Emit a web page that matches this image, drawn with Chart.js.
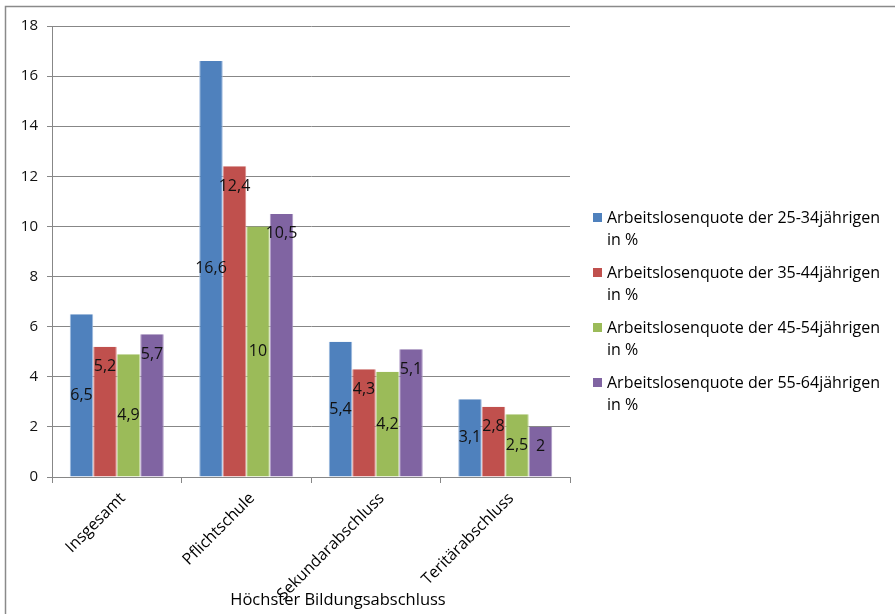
<!DOCTYPE html>
<html lang="de">
<head>
<meta charset="utf-8">
<title>Arbeitslosenquote nach Bildungsabschluss</title>
<script src="https://cdn.jsdelivr.net/npm/chart.js@4/dist/chart.umd.min.js"></script>
<style>
  html, body { margin: 0; padding: 0; background: #fff; }
  #wrap { width: 895px; height: 614px; position: relative; }
</style>
</head>
<body>
<div id="wrap"><canvas id="chart" width="895" height="614"></canvas></div>
<script>
// Kategorien (höchster Bildungsabschluss)
const categories = ['Insgesamt', 'Pflichtschule', 'Sekundarabschluss', 'Teritärabschluss'];

// Arbeitslosenquoten in % je Altersgruppe
const quote25bis34 = [6.5, 16.6, 5.4, 3.1];
const quote35bis44 = [5.2, 12.4, 4.3, 2.8];
const quote45bis54 = [4.9, 10, 4.2, 2.5];
const quote55bis64 = [5.7, 10.5, 5.1, 2];

const seriesNames = [
  'Arbeitslosenquote der 25-34jährigen in %',
  'Arbeitslosenquote der 35-44jährigen in %',
  'Arbeitslosenquote der 45-54jährigen in %',
  'Arbeitslosenquote der 55-64jährigen in %'
];

// y-Achse
const yMin = 0;
const yMax = 18;
const yStep = 2;

const axisTitle = 'Höchster Bildungsabschluss';

const FONT = '"Open Sans", Lato, sans-serif';
const AXIS_GREY = '#878787';

const seriesValues = [quote25bis34, quote35bis44, quote45bis54, quote55bis64];
const fills = ['#4F81BD', '#C0504D', '#9BBB59', '#8064A2'];
const edges = ['#9DB9DE', '#D98A88', '#C3D99A', '#AC97C6'];
// Wertbeschriftung: Mitte des Balkens oder innen am Ende
const labelAnchors = ['center', 'end', 'center', 'end'];

const fmt = v => String(v).replace('.', ',');

// Rahmen des Diagrammbereichs
const frame = {
  id: 'frame',
  beforeDraw(chart) {
    const ctx = chart.ctx;
    ctx.save();
    ctx.strokeStyle = '#8a8a8a';
    ctx.lineWidth = 1.5;
    ctx.beginPath();
    ctx.moveTo(5.5, chart.height + 5);
    ctx.lineTo(5.5, 6.5);
    ctx.lineTo(chart.width + 5, 6.5);
    ctx.stroke();
    ctx.restore();
  }
};

// Wertbeschriftungen auf den Balken
const valueLabels = {
  id: 'valueLabels',
  afterDatasetsDraw(chart) {
    const ctx = chart.ctx;
    ctx.save();
    ctx.font = '16px ' + FONT;
    ctx.fillStyle = '#111';
    ctx.textAlign = 'center';
    ctx.textBaseline = 'middle';
    chart.data.datasets.forEach((ds, i) => {
      const meta = chart.getDatasetMeta(i);
      meta.data.forEach((bar, j) => {
        const p = bar.getProps(['x', 'y', 'base'], true);
        const y = ds.labelAnchor === 'center' ? (p.y + p.base) / 2 : p.y + 20;
        ctx.fillText(fmt(ds.data[j]), p.x, y);
      });
    });
    ctx.restore();
  }
};

// Achsentitel unter den Kategorien
const xTitle = {
  id: 'xTitle',
  afterDraw(chart) {
    const a = chart.chartArea;
    const ctx = chart.ctx;
    ctx.save();
    ctx.font = '16.5px ' + FONT;
    ctx.fillStyle = '#000';
    ctx.textAlign = 'center';
    ctx.textBaseline = 'middle';
    ctx.fillText(axisTitle, (a.left + a.right) / 2 + 27, chart.height - 14);
    ctx.restore();
  }
};

// Legende rechts, zweizeilig
const sideLegend = {
  id: 'sideLegend',
  afterDraw(chart) {
    const a = chart.chartArea;
    const ctx = chart.ctx;
    const boxX = a.right + 23;
    const textX = boxX + 14;
    const maxW = chart.width - textX - 4;
    ctx.save();
    ctx.font = '16px ' + FONT;
    ctx.textBaseline = 'middle';
    ctx.textAlign = 'left';
    chart.data.datasets.forEach((ds, i) => {
      const top = 218 + i * 55;
      const words = ds.label.split(' ');
      let lines = [ds.label];
      if (ctx.measureText(ds.label).width > maxW) {
        lines = [words.slice(0, -2).join(' '), words.slice(-2).join(' ')];
      }
      ctx.fillStyle = ds.backgroundColor;
      ctx.fillRect(boxX, top - 5, 9, 9);
      ctx.fillStyle = '#000';
      lines.forEach((l, k) => ctx.fillText(l, textX, top + k * 22));
    });
    ctx.restore();
  }
};

new Chart(document.getElementById('chart'), {
  type: 'bar',
  data: {
    labels: categories,
    datasets: seriesNames.map((name, i) => ({
      label: name,
      data: seriesValues[i],
      backgroundColor: fills[i],
      borderColor: edges[i],
      borderWidth: { left: 1, right: 1, top: 0, bottom: 0 },
      borderSkipped: false,
      labelAnchor: labelAnchors[i],
      categoryPercentage: 0.726,
      barPercentage: 1
    }))
  },
  options: {
    responsive: false,
    animation: false,
    events: [],
    layout: { padding: { left: 0, top: 26, right: 325, bottom: 0 } },
    plugins: {
      legend: { display: false },
      tooltip: { enabled: false },
      title: { display: false }
    },
    scales: {
      x: {
        grid: {
          offset: true,
          drawOnChartArea: false,
          drawTicks: true,
          tickLength: 6,
          color: AXIS_GREY
        },
        border: { color: AXIS_GREY, width: 1 },
        ticks: {
          minRotation: 45,
          maxRotation: 45,
          color: '#000',
          font: { family: FONT, size: 16 },
          padding: 6,
          labelOffset: 6
        },
        afterFit(scale) { scale.height = 137; }
      },
      y: {
        min: yMin,
        max: yMax,
        grid: { color: AXIS_GREY, tickLength: 5, drawTicks: true },
        border: { color: AXIS_GREY, width: 1 },
        ticks: {
          stepSize: yStep,
          color: '#111',
          font: { family: FONT, size: 15 },
          padding: 9
        },
        afterFit(scale) { scale.width = 52; }
      }
    }
  },
  plugins: [frame, valueLabels, xTitle, sideLegend]
});
</script>
</body>
</html>
